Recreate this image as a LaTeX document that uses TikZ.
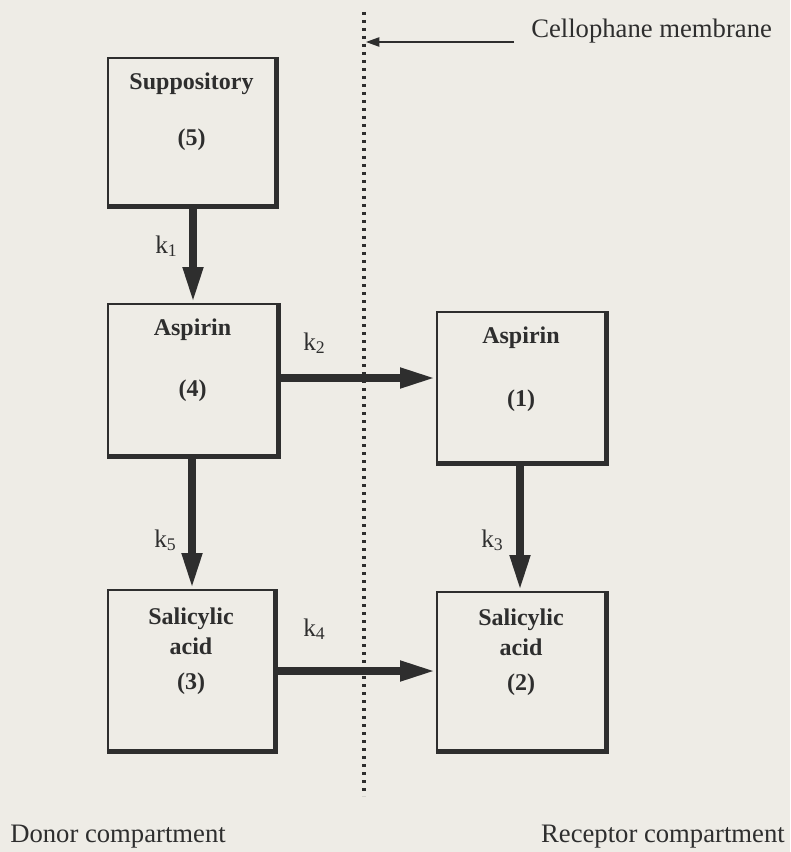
\documentclass[tikz,border=0pt]{standalone}
\usepackage{fontspec}
\setmainfont{Liberation Serif}
\usetikzlibrary{arrows.meta}
\definecolor{paper}{HTML}{EEECE6}
\definecolor{ink}{HTML}{2E2E2E}
\tikzset{
  cbox/.style={draw=ink, line width=1.4pt, minimum width=#1, inner sep=0pt},
  boxtxt/.style={anchor=base, font=\fontsize{18}{20}\selectfont\bfseries, text=ink, inner sep=0pt},
  klabel/.style={anchor=base west, font=\fontsize{19}{21}\selectfont, text=ink, inner sep=0pt},
  side/.style={anchor=base, font=\fontsize{20}{22}\selectfont, text=ink, inner sep=0pt},
  flow/.style={draw=ink, line width=6pt, -{Triangle[length=27pt,width=14pt]}},
  shade/.style={draw=ink, line width=2.6pt},
  membrane/.style={draw=ink, line width=2.4pt, dash pattern=on 2.4pt off 3.6pt},
  pointer/.style={draw=ink, line width=1pt, -{Triangle[length=10pt,width=7pt]}}
}
\begin{document}
\begin{tikzpicture}[x=0.75pt,y=-0.75pt]
\fill[paper] (0,0) rectangle (790,852);
\useasboundingbox (0,0) rectangle (790,852);
% membrane
\coordinate (mtop) at (364,12);
\coordinate (mbot) at (364,796);
\draw[membrane] (mtop) -- (mbot);
\coordinate (mhit) at (366,42);
\coordinate (mstart) at (514,42);
\draw[pointer] (mstart) -- (mhit);
\node[side, anchor=base west] (cm) at (531,38) {Cellophane membrane};
% boxes
\node[cbox=125.25pt, minimum height=110.25pt] (b5) at (191.5,131.5) {};
\node[cbox=126.75pt, minimum height=113.25pt] (b4) at (192.5,379.5) {};
\node[cbox=126pt, minimum height=112.5pt] (b1) at (521,387) {};
\node[cbox=124.5pt, minimum height=120pt] (b3) at (191,670) {};
\node[cbox=126pt, minimum height=118.5pt] (b2) at (521,671) {};
\foreach \b in {b5,b4,b1,b3,b2}{
  \draw[shade] ([shift={(1.5,0)}]\b.north east) -- ([shift={(1.5,1.5)}]\b.south east) -- ([shift={(0,1.5)}]\b.south west);
}
% box texts
\node[boxtxt] (t5a) at (191.5,90) {Suppository};
\node[boxtxt] (t5b) at (191.5,146) {(5)};
\node[boxtxt] (t4a) at (192.5,335) {Aspirin};
\node[boxtxt] (t4b) at (192.5,396) {(4)};
\node[boxtxt] (t1a) at (521,343) {Aspirin};
\node[boxtxt] (t1b) at (521,406) {(1)};
\node[boxtxt] (t3a) at (191,624) {Salicylic};
\node[boxtxt] (t3b) at (191,654) {acid};
\node[boxtxt] (t3c) at (191,689) {(3)};
\node[boxtxt] (t2a) at (521,625) {Salicylic};
\node[boxtxt] (t2b) at (521,655) {acid};
\node[boxtxt] (t2c) at (521,690) {(2)};
% flows
\draw[flow] (b5.south -| 193,0) -- (b4.north -| 193,0);
\draw[flow] (b4.east |- 0,378) -- (b1.west |- 0,378);
\draw[flow] (b1.south -| 520,0) -- (b2.north -| 520,0);
\draw[flow] (b4.south -| 192,0) -- (b3.north -| 192,0);
\draw[flow] (b3.east |- 0,671) -- (b2.west |- 0,671);
% rate labels
\node[klabel] (k1) at (155,253) {k\textsubscript{1}};
\node[klabel] (k2) at (303,350) {k\textsubscript{2}};
\node[klabel] (k3) at (481,547) {k\textsubscript{3}};
\node[klabel] (k4) at (303,636) {k\textsubscript{4}};
\node[klabel] (k5) at (154,547) {k\textsubscript{5}};
% compartments
\node[side, anchor=base west] (donor) at (10,842) {Donor compartment};
\node[side, anchor=base east] (recep) at (785,842) {Receptor compartment};
\end{tikzpicture}
\end{document}
